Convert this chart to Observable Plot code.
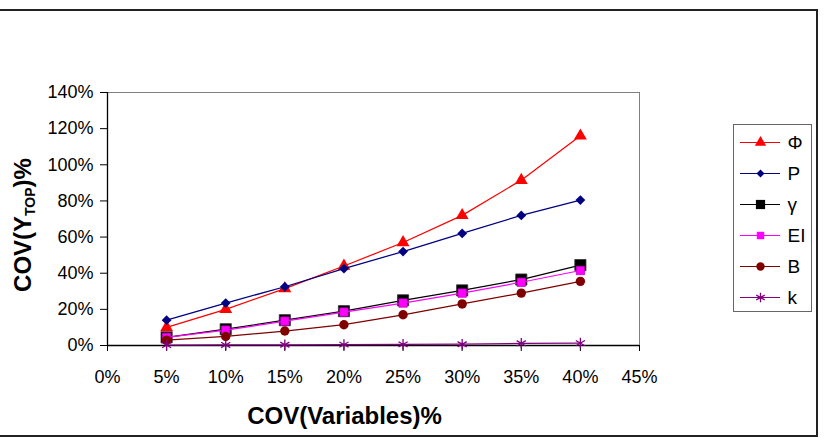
<!DOCTYPE html>
<html>
<head>
<meta charset="utf-8">
<script src="https://cdn.jsdelivr.net/npm/d3@7"></script>
<script src="https://cdn.jsdelivr.net/npm/@observablehq/plot@0.6"></script>
<style>
  body { margin: 0; background: #fff; }
  #chart { position: relative; width: 826px; height: 438px; overflow: hidden;
           font-family: "Liberation Sans", Arial, sans-serif; }
  #outer { position: absolute; left: -4px; top: 9px; width: 822px; height: 428px;
           box-sizing: border-box; border: 2px solid #222; pointer-events: none; }
  #legend { position: absolute; left: 733px; top: 124px; width: 79px; height: 188px;
            box-sizing: border-box; border: 1px solid #666; background: #fff; }
  #legend svg { position: absolute; left: 0; top: 0; }
</style>
</head>
<body>
<div id="chart"><div id="outer"></div><div id="legend"></div></div>
<script>
// COV of the input variables (x) and COV of the top displacement (y), in fractions
const covVariables = [0.05, 0.10, 0.15, 0.20, 0.25, 0.30, 0.35, 0.40];
const seriesNames = ["Φ", "P", "γ", "EI", "B", "k"];
const phiValues   = [0.100, 0.200, 0.315, 0.440, 0.570, 0.720, 0.915, 1.160];
const pValues     = [0.140, 0.235, 0.325, 0.425, 0.520, 0.620, 0.720, 0.805];
const gammaValues = [0.045, 0.090, 0.140, 0.190, 0.250, 0.305, 0.365, 0.445];
const eiValues    = [0.045, 0.085, 0.135, 0.185, 0.235, 0.290, 0.350, 0.415];
const bValues     = [0.030, 0.050, 0.080, 0.115, 0.170, 0.230, 0.290, 0.355];
const kValues     = [0.002, 0.003, 0.004, 0.005, 0.006, 0.007, 0.012, 0.013];
const xTicks = [0, 0.05, 0.10, 0.15, 0.20, 0.25, 0.30, 0.35, 0.40, 0.45];
const yTicks = [0, 0.2, 0.4, 0.6, 0.8, 1.0, 1.2, 1.4];

const seriesValues = [phiValues, pValues, gammaValues, eiValues, bValues, kValues];

// drawing style per series
const styles = {
  "Φ":  {color: "#ff0000", symbol: "triangle", r: 4.8, legendR: 4.2, fill: "#ff0000"},
  "P":  {color: "#000080", symbol: "diamond2", r: 4.4, legendR: 3.6, fill: "#000080"},
  "γ":  {color: "#000000", symbol: "square",   r: 6.3, legendR: 5.2, fill: "#000000"},
  "EI": {color: "#ff00ff", symbol: "square",   r: 4.7, legendR: 4.2, fill: "#ff00ff"},
  "B":  {color: "#800000", symbol: "circle",   r: 4.7, legendR: 4.2, fill: "#800000"},
  "k":  {color: "#800080", symbol: "asterisk", r: 5.0, legendR: 4.6, fill: "none"}
};

const rows = seriesNames.flatMap((name, i) =>
  covVariables.map((x, j) => ({series: name, x, y: seriesValues[i][j]})));

const pct = d3.format(".0%");

const seriesMarks = seriesNames.flatMap(name => {
  const s = styles[name];
  const data = rows.filter(d => d.series === name);
  const dot = s.fill === "none"
    ? Plot.dot(data, {x: "x", y: "y", symbol: () => s.symbol, r: s.r, stroke: s.color, strokeWidth: 1.3, fill: "none"})
    : Plot.dot(data, {x: "x", y: "y", symbol: () => s.symbol, r: s.r, fill: s.fill,
        stroke: name === "EI" ? "#c000c0" : name === "γ" ? "#333" : "none", strokeWidth: 0.8});
  return [
    Plot.line(data, {x: "x", y: "y", stroke: s.color, strokeWidth: 1.25}),
    dot
  ];
});

const chart = Plot.plot({
  width: 826,
  height: 438,
  marginLeft: 107,
  marginRight: 187,
  marginTop: 92,
  marginBottom: 93,
  style: {fontFamily: "'Liberation Sans', Arial, sans-serif", fontSize: "18px", color: "#000", background: "transparent"},
  x: {domain: [0, 0.45]},
  y: {domain: [0, 1.4]},
  symbol: {type: "identity"},
  marks: [
    Plot.frame({stroke: "#808080"}),
    Plot.axisY({ticks: yTicks, tickFormat: pct, tickSize: 7, tickPadding: 7, label: null, fontSize: 18}),
    Plot.axisX({ticks: xTicks, tickFormat: pct, tickSize: 6, tickPadding: 19, label: null, fontSize: 18}),
    Plot.ruleX([0], {stroke: "#000", strokeWidth: 1.3}),
    Plot.ruleY([0], {stroke: "#000", strokeWidth: 1.3}),
    ...seriesMarks,
    Plot.text(["COV(Variables)%"], {frameAnchor: "bottom", dx: -29, dy: 71, lineAnchor: "middle",
      fontSize: 24, fontWeight: "bold"})
  ]
});

// Y-axis title with subscripted "TOP"
const svg = d3.select(chart);
const yTitle = svg.append("text")
  .attr("transform", "translate(31,225) rotate(-90)")
  .attr("text-anchor", "middle")
  .attr("font-weight", "bold")
  .attr("font-size", 24)
  .attr("fill", "#000");
yTitle.append("tspan").text("COV(Y");
yTitle.append("tspan").attr("font-size", 14).attr("dy", 4).text("TOP");
yTitle.append("tspan").attr("dy", -4).text(")%");

document.getElementById("chart").insertBefore(chart, document.getElementById("outer"));

// Legend panel: one row per series with its line, marker and name
const legend = Plot.plot({
  width: 77,
  height: 186,
  margin: 0,
  style: {fontFamily: "'Liberation Sans', Arial, sans-serif", fontSize: "18px", color: "#000", background: "transparent"},
  x: {domain: [0, 77], range: [0, 77], axis: null},
  y: {type: "point", domain: seriesNames, range: [17, 172], padding: 0, axis: null},
  symbol: {type: "identity"},
  r: {type: "identity"},
  marks: [
    Plot.ruleY(seriesNames, {y: d => d, x1: 6, x2: 46, stroke: d => styles[d].color, strokeWidth: 1.2}),
    Plot.dot(seriesNames, {y: d => d, x: 26, symbol: d => styles[d].symbol, r: d => styles[d].legendR,
      fill: d => styles[d].fill, stroke: d => styles[d].fill === "none" ? styles[d].color : "none",
      strokeWidth: 1.3}),
    Plot.text(seriesNames, {y: d => d, x: 53, text: d => d, textAnchor: "start", fontSize: 19,
      fontStyle: d => d === "γ" ? "italic" : "normal"})
  ]
});
document.getElementById("legend").appendChild(legend);
</script>
</body>
</html>
